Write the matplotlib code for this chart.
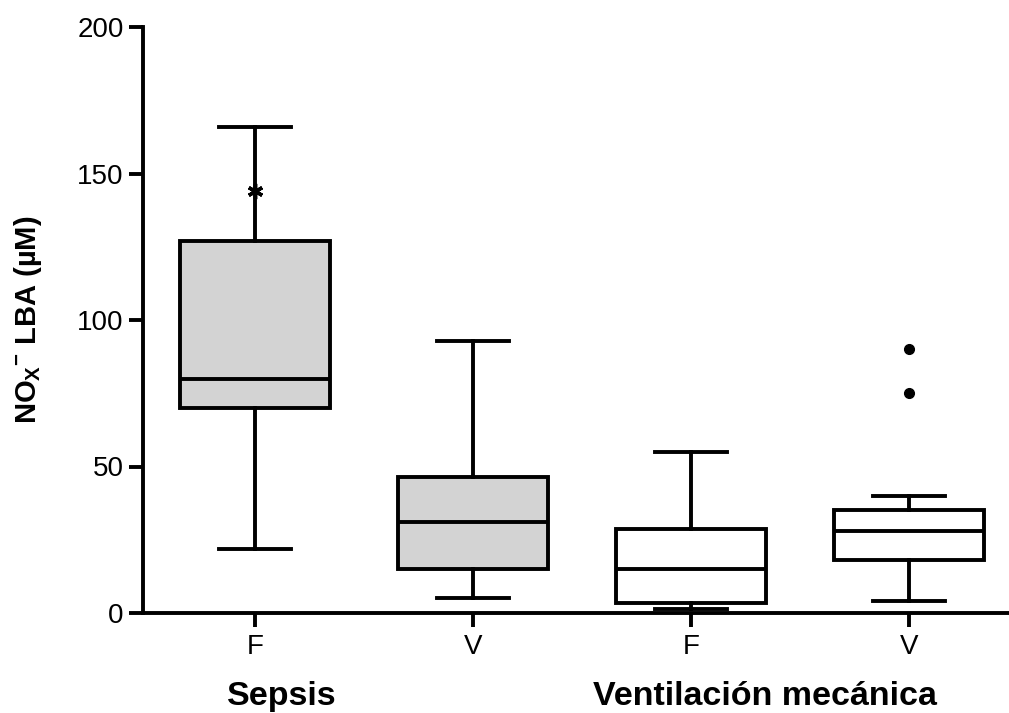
import matplotlib
matplotlib.use("Agg")
import matplotlib.pyplot as plt

plt.rcParams['font.family'] = ['Liberation Sans', 'DejaVu Sans']

groups = ["F", "V", "F", "V"]
whislo = [22, 5, 1.5, 4]
q1 = [70, 15, 3.5, 18]
med = [80, 31, 15, 28]
q3 = [127, 46.5, 28.7, 35]
whishi = [166, 93, 55, 40]
fliers = [[], [], [], [75, 90]]
extra_mark = (1, 144)  # asterisk inside Sepsis F whisker
box_colors = ["#d3d3d3", "#d3d3d3", "white", "white"]
group_labels = ["Sepsis", "Ventilación mecánica"]

stats = []
for i in range(len(groups)):
    stats.append(dict(whislo=whislo[i], q1=q1[i], med=med[i], q3=q3[i],
                      whishi=whishi[i], fliers=fliers[i]))

fig = plt.figure(figsize=(10.09, 7.13), dpi=100)
ax = fig.add_axes([143 / 1009, 100 / 713, 866 / 1009, 586 / 713])

lw = 2.8
bp = ax.bxp(stats, positions=[1, 2, 3, 4], widths=0.69, patch_artist=True,
            boxprops=dict(linewidth=lw, edgecolor="black"),
            medianprops=dict(linewidth=lw, color="black"),
            whiskerprops=dict(linewidth=lw, color="black"),
            capprops=dict(linewidth=lw, color="black"),
            capwidths=0.33,
            flierprops=dict(marker="o", markersize=7, markerfacecolor="black",
                            markeredgecolor="black"))
for patch, c in zip(bp["boxes"], box_colors):
    patch.set_facecolor(c)

ax.plot([extra_mark[0]], [extra_mark[1]], marker=(6, 2, 0), markersize=11,
        color="black", markeredgewidth=2.5)

ax.set_xlim(0.485, 4.46)
ax.set_ylim(0, 200)
ax.set_yticks([0, 50, 100, 150, 200])
ax.set_xticks([1, 2, 3, 4])
ax.set_xticklabels(groups)
ax.tick_params(axis="both", labelsize=20, width=lw, length=10, direction="out")
ax.tick_params(axis="y", pad=4)
ax.tick_params(axis="x", pad=5)
for s in ["top", "right"]:
    ax.spines[s].set_visible(False)
for s in ["left", "bottom"]:
    ax.spines[s].set_linewidth(lw)

ax.set_ylabel(r"NO$_\mathregular{X}$$^\mathregular{-}$ LBA (µM)", fontsize=21,
              fontweight="bold", labelpad=24)

ax.text(1.12, -0.143, group_labels[0], transform=ax.get_xaxis_transform(),
        ha="center", va="center", fontsize=24.5, fontweight="bold")
ax.text(3.34, -0.143, group_labels[1], transform=ax.get_xaxis_transform(),
        ha="center", va="center", fontsize=24.5, fontweight="bold")

fig.savefig("out.png", dpi=100)
